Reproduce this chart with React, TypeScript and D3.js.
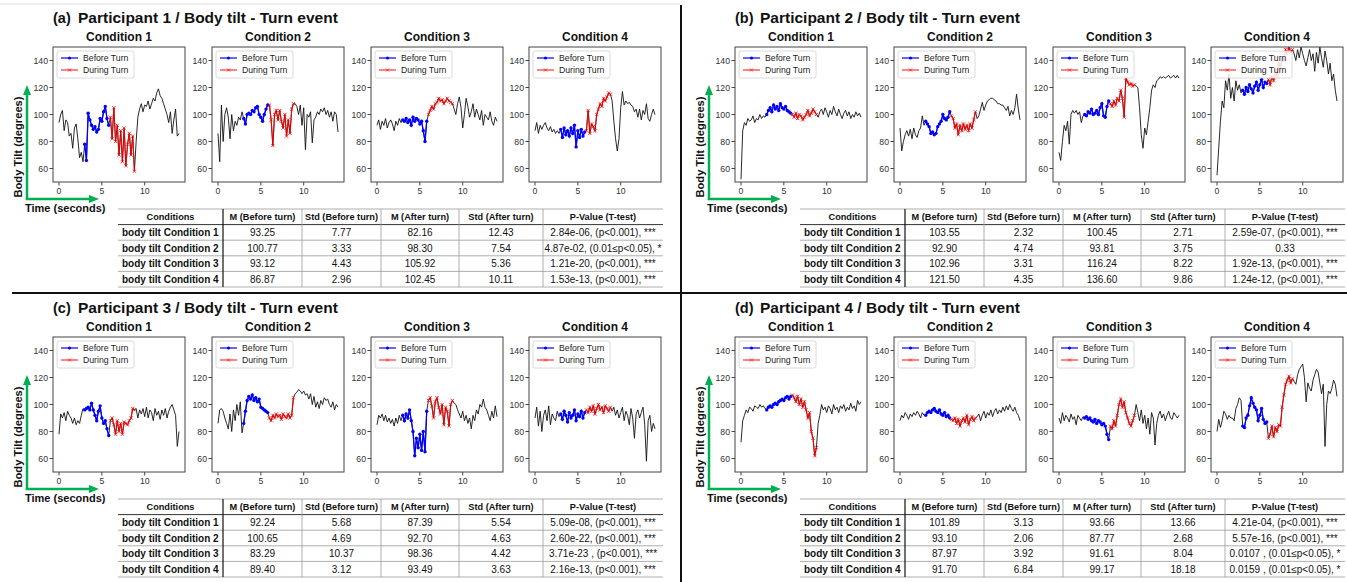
import * as d3 from "d3";

// sampling of the body tilt series (seconds between samples)
const SAMPLE_DT = 0.2;
// index ranges [start, end) for the two highlighted windows
const BEFORE_RANGE: [number, number] = [15, 30]; // 3.0 s .. 5.8 s
const DURING_RANGE: [number, number] = [30, 45]; // 6.0 s .. 8.8 s

const Y_TICKS = [60, 80, 100, 120, 140];
const X_TICKS = [0, 5, 10];
const CONDITIONS = ["Condition 1", "Condition 2", "Condition 3", "Condition 4"];
const TABLE_HEADERS = ["Conditions", "M (Before turn)", "Std (Before turn)", "M (After turn)", "Std (After turn)", "P-Value (T-test)"];
const ROW_LABELS = ["body tilt Condition 1", "body tilt Condition 2", "body tilt Condition 3", "body tilt Condition 4"];

// ---- Participant 1 ----
const p1c1 = [
  94, 100, 103, 88, 96, 94, 84, 86, 75, 90, 93, 82, 68, 72, 65,
  78, 66, 101, 96, 92, 89, 91, 87, 89, 97, 95, 102, 106, 97, 92,
  98, 82, 105, 80, 92, 70, 88, 65, 90, 62, 78, 86, 70, 84, 58,
  80, 98, 104, 108, 102, 107, 106, 110, 104, 108, 112, 110, 116, 119, 114, 112, 108, 104, 100, 94, 102, 86, 96, 104, 84, 86,
];
const p1c2 = [
  86, 65, 107, 80, 100, 105, 98, 82, 100, 88, 95, 92, 98, 96, 102,
  97, 93, 100, 101, 100, 103, 102, 105, 106, 100, 98, 95, 100, 104, 107,
  107, 96, 77, 100, 103, 96, 103, 95, 90, 100, 84, 96, 86, 104, 108,
  108, 106, 100, 107, 92, 105, 74, 100, 98, 102, 79, 96, 98, 102, 100, 104, 102, 105, 100, 103, 98, 102, 95, 102, 100, 87,
];
const p1c3 = [
  92, 96, 89, 95, 92, 97, 90, 94, 96, 93, 88, 95, 92, 97, 94,
  96, 95, 97, 94, 96, 92, 98, 95, 97, 96, 93, 95, 88, 80, 95,
  100, 103, 106, 104, 108, 109, 112, 110, 111, 108, 110, 112, 110, 109, 108,
  104, 100, 108, 113, 105, 90, 100, 112, 106, 98, 102, 108, 98, 104, 100, 96, 103, 92, 100, 98, 96, 102, 95, 92, 98, 95,
];
const p1c4 = [
  88, 94, 86, 92, 89, 92, 94, 90, 88, 91, 87, 89, 86, 88, 86,
  89, 83, 90, 85, 88, 84, 90, 86, 92, 76, 88, 83, 89, 84, 87,
  88, 103, 86, 93, 91, 88, 100, 104, 108, 106, 112, 110, 113, 116, 115,
  110, 95, 82, 73, 82, 105, 117, 107, 110, 108, 109, 107, 106, 102, 104, 98, 104, 96, 103, 100, 108, 97, 95, 100, 104, 100,
];

// ---- Participant 2 ----
const p2c1 = [
  52, 88, 94, 92, 97, 95, 96, 99, 94, 97, 96, 100, 97, 99, 98,
  100, 103, 105, 102, 107, 104, 106, 103, 108, 105, 104, 106, 103, 102, 101,
  100, 98, 101, 97, 100, 99, 96, 98, 100, 103, 99, 101, 104, 102, 100,
  98, 102, 104, 100, 105, 102, 98, 103, 100, 106, 102, 99, 104, 100, 97, 101, 103, 99, 102, 97, 100, 98, 102, 99, 101, 98,
];
const p2c2 = [
  90, 73, 80, 85, 88, 84, 89, 82, 90, 85, 83, 88, 90, 99, 92,
  95, 93, 91, 86, 87, 85, 86, 91, 93, 95, 100, 97, 96, 98, 102,
  99, 97, 90, 93, 85, 92, 88, 93, 89, 92, 88, 93, 90, 96, 102,
  97, 99, 104, 109, 103, 107, 110, 111, 112, 112, 111, 110, 108, 108, 107, 107, 105, 103, 106, 99, 103, 100, 105, 115, 104, 96,
];
const p2c3 = [
  72, 66, 80, 92, 88, 95, 78, 100, 103, 101, 103, 100, 102, 94, 99,
  100, 99, 102, 101, 104, 100, 101, 103, 100, 105, 108, 99, 98, 106, 110,
  108, 106, 110, 107, 112, 110, 118, 112, 98, 127, 124, 122, 123, 121, 122,
  121, 120, 105, 85, 75, 90, 85, 95, 105, 118, 122, 120, 125, 126, 128, 127, 128, 127, 128, 129, 127, 128, 129, 127, 129, 127,
];
const p2c4 = [
  55, 75, 95, 110, 105, 125, 118, 130, 112, 120, 110, 125, 118, 122, 116,
  118, 115, 120, 117, 122, 119, 116, 121, 124, 118, 122, 126, 120, 124, 123,
  126, 122, 128, 125, 132, 128, 138, 135, 142, 140, 148, 145, 150, 146, 148,
  145, 140, 148, 142, 150, 145, 140, 136, 142, 148, 140, 145, 132, 146, 138, 150, 142, 135, 147, 140, 130, 138, 125, 130, 118, 110,
];

// ---- Participant 3 ----
const p3c1 = [
  78, 93, 90, 94, 88, 95, 92, 90, 86, 90, 85, 88, 86, 92, 97,
  96, 97, 98, 96, 101, 96, 92, 88, 95, 99, 90, 86, 88, 82, 77,
  88, 90, 85, 78, 88, 80, 86, 78, 87, 86, 85, 88, 90, 97, 96,
  97, 90, 96, 93, 97, 91, 98, 90, 96, 94, 88, 97, 92, 95, 89, 96, 92, 97, 90, 95, 98, 100, 96, 92, 69, 80,
];
const p3c2 = [
  86, 96, 97, 95, 90, 86, 82, 93, 80, 96, 88, 100, 92, 102, 79,
  86, 95, 103, 106, 104, 107, 103, 105, 102, 104, 98, 97, 96, 95, 94,
  90, 88, 92, 90, 93, 91, 92, 89, 93, 91, 90, 93, 90, 92, 105,
  108, 109, 111, 110, 108, 110, 107, 108, 104, 108, 100, 106, 98, 102, 97, 103, 100, 105, 103, 104, 100, 98, 102, 96, 100, 98,
];
const p3c3 = [
  85, 92, 90, 93, 88, 92, 87, 90, 86, 89, 84, 90, 86, 92, 88,
  92, 88, 93, 90, 96, 88, 80, 62, 75, 68, 78, 66, 80, 65, 95,
  103, 105, 99, 90, 102, 105, 98, 93, 100, 85, 98, 95, 84, 100, 103,
  101, 100, 96, 93, 90, 95, 88, 92, 86, 90, 82, 92, 88, 96, 93, 100, 98, 104, 98, 96, 92, 88, 95, 90, 99, 91,
];
const p3c4 = [
  90, 98, 84, 95, 80, 92, 96, 88, 99, 85, 93, 90, 88, 95, 91,
  93, 89, 95, 92, 87, 94, 90, 92, 96, 88, 93, 91, 95, 90, 94,
  96, 94, 98, 95, 99, 93, 97, 100, 96, 98, 94, 99, 97, 95, 98,
  95, 98, 92, 96, 90, 94, 98, 88, 95, 92, 85, 97, 90, 75, 93, 96, 90, 94, 98, 85, 58, 88, 92, 80, 86, 82,
];

// ---- Participant 4 ----
const p4c1 = [
  72, 88, 92, 96, 94, 98, 97, 95, 99, 98, 97, 100, 98, 99, 97,
  96, 98, 99, 98, 100, 101, 100, 102, 103, 104, 103, 105, 106, 104, 106,
  107, 105, 102, 106, 100, 104, 98, 102, 96, 90, 94, 80, 75, 62, 68,
  86, 92, 100, 96, 98, 94, 99, 97, 93, 100, 96, 98, 94, 99, 97, 100, 95, 98, 96, 101, 97, 99, 95, 103, 100, 102,
];
const p4c2 = [
  88, 92, 90, 94, 92, 89, 93, 91, 94, 92, 95, 93, 90, 94, 92,
  92, 94, 95, 94, 96, 97, 95, 94, 96, 93, 92, 94, 91, 92, 90,
  89, 88, 90, 86, 89, 84, 88, 90, 87, 92, 85, 89, 91, 88, 90,
  91, 93, 88, 92, 95, 90, 94, 92, 96, 91, 95, 97, 93, 96, 94, 98, 95, 99, 96, 100, 97, 95, 98, 94, 92, 88,
];
const p4c3 = [
  90, 86, 94, 88, 92, 90, 87, 93, 89, 91, 85, 92, 90, 88, 91,
  90, 91, 89, 90, 88, 87, 89, 86, 88, 87, 85, 86, 84, 78, 74,
  84, 82, 88, 84, 92, 100, 104, 98, 102, 94, 90, 86, 84, 88, 92,
  100, 94, 88, 96, 86, 92, 82, 90, 78, 94, 90, 70, 86, 92, 95, 90, 93, 88, 92, 95, 90, 89, 94, 92, 90, 92,
];
const p4c4 = [
  80, 89, 83, 88, 95, 93, 89, 92, 90, 90, 88, 97, 100, 105, 103,
  84, 83, 90, 92, 99, 105, 101, 98, 96, 88, 92, 97, 89, 86, 87,
  75, 78, 84, 76, 83, 80, 85, 84, 98, 107, 115, 118, 121, 116, 119,
  117, 115, 122, 126, 128, 130, 120, 102, 116, 112, 110, 118, 122, 126, 124, 116, 108, 115, 69, 100, 110, 108, 112, 118, 115, 106,
];

// ---- tables ----
const p1MBefore = [93.25, 100.77, 93.12, 86.87];
const p1StdBefore = [7.77, 3.33, 4.43, 2.96];
const p1MAfter = [82.16, 98.3, 105.92, 102.45];
const p1StdAfter = [12.43, 7.54, 5.36, 10.11];
const p1PValue = ["2.84e-06,  (p<0.001), ***", "4.87e-02,  (0.01≤p<0.05), *", "1.21e-20, (p<0.001), ***", "1.53e-13, (p<0.001), ***"];

const p2MBefore = [103.55, 92.9, 102.96, 121.5];
const p2StdBefore = [2.32, 4.74, 3.31, 4.35];
const p2MAfter = [100.45, 93.81, 116.24, 136.6];
const p2StdAfter = [2.71, 3.75, 8.22, 9.86];
const p2PValue = ["2.59e-07, (p<0.001), ***", "0.33", "1.92e-13, (p<0.001), ***", "1.24e-12, (p<0.001), ***"];

const p3MBefore = [92.24, 100.65, 83.29, 89.4];
const p3StdBefore = [5.68, 4.69, 10.37, 3.12];
const p3MAfter = [87.39, 92.7, 98.36, 93.49];
const p3StdAfter = [5.54, 4.63, 4.42, 3.63];
const p3PValue = ["5.09e-08, (p<0.001), ***", "2.60e-22, (p<0.001), ***", "3.71e-23 , (p<0.001), ***", "2.16e-13, (p<0.001), ***"];

const p4MBefore = [101.89, 93.1, 87.97, 91.7];
const p4StdBefore = [3.13, 2.06, 3.92, 6.84];
const p4MAfter = [93.66, 87.77, 91.61, 99.17];
const p4StdAfter = [13.66, 2.68, 8.04, 18.18];
const p4PValue = ["4.21e-04,  (p<0.001), ***", "5.57e-16,  (p<0.001), ***", "0.0107 , (0.01≤p<0.05), *", "0.0159 , (0.01≤p<0.05), *"];

// ---- layout ----
const W = 1347;
const H = 582;
const FONT = "'Liberation Sans', Arial, sans-serif";
const GREEN = "#00b050";
const PLOT_LEFT = [53, 212, 371, 529];
const PLOT_TOP = 47;
const PW = 132;
const PH = 135;
const TABLE_COLS = [118, 223, 302, 381, 459, 543, 663];
const TABLE_TOP = 209;
const ROW_H = 15.6;

const QUADS = [
  { tag: "(a)", title: "Participant 1 / Body tilt - Turn event", dx: 0, dy: 0,
    series: [p1c1, p1c2, p1c3, p1c4],
    cols: [p1MBefore, p1StdBefore, p1MAfter, p1StdAfter], p: p1PValue },
  { tag: "(b)", title: "Participant 2 / Body tilt - Turn event", dx: 682, dy: 0,
    series: [p2c1, p2c2, p2c3, p2c4],
    cols: [p2MBefore, p2StdBefore, p2MAfter, p2StdAfter], p: p2PValue },
  { tag: "(c)", title: "Participant 3 / Body tilt - Turn event", dx: 0, dy: 290,
    series: [p3c1, p3c2, p3c3, p3c4],
    cols: [p3MBefore, p3StdBefore, p3MAfter, p3StdAfter], p: p3PValue },
  { tag: "(d)", title: "Participant 4 / Body tilt - Turn event", dx: 682, dy: 290,
    series: [p4c1, p4c2, p4c3, p4c4],
    cols: [p4MBefore, p4StdBefore, p4MAfter, p4StdAfter], p: p4PValue },
];

type Pt = [number, number];

function crossPath(cx: number, cy: number, s: number) {
  return `M${cx - s},${cy - s}L${cx + s},${cy + s}M${cx - s},${cy + s}L${cx + s},${cy - s}`;
}

function Plot({ left, top, values, title, id }: { left: number; top: number; values: number[]; title: string; id: string }) {
  const x = d3.scaleLinear().domain([-0.7, 14.7]).range([left, left + PW]);
  const y = d3.scaleLinear().domain([50, 150]).range([top + PH, top]);
  const pts: Pt[] = values.map((v, i) => [i * SAMPLE_DT, v]);
  const line = d3.line<Pt>().x((d) => x(d[0])).y((d) => y(d[1]));
  const before = pts.slice(BEFORE_RANGE[0], BEFORE_RANGE[1]);
  const during = pts.slice(DURING_RANGE[0], DURING_RANGE[1]);
  const lx = left + 4;
  const ly = top + 4;

  return (
    <g>
      <clipPath id={id}>
        <rect x={left} y={top} width={PW} height={PH} />
      </clipPath>
      <text x={left + PW / 2} y={top - 6} textAnchor="middle" fontSize={12} fontWeight="bold" fill="#111">
        {title}
      </text>
      <g clipPath={`url(#${id})`}>
        <path d={line(pts) ?? ""} fill="none" stroke="#111" strokeWidth={0.9} />
        <path d={line(before) ?? ""} fill="none" stroke="#0000ff" strokeWidth={1.3} />
        {before.map((d, i) => (
          <circle key={i} cx={x(d[0])} cy={y(d[1])} r={1.7} fill="#0000ff" />
        ))}
        <g opacity={0.8}>
          <path d={line(during) ?? ""} fill="none" stroke="#ff0000" strokeWidth={1.2} />
          {during.map((d, i) => (
            <path key={i} d={crossPath(x(d[0]), y(d[1]), 1.6)} stroke="#ff0000" strokeWidth={1} />
          ))}
        </g>
      </g>
      <rect x={left} y={top} width={PW} height={PH} fill="none" stroke="#444" strokeWidth={1} />
      {Y_TICKS.map((t) => (
        <g key={t}>
          <line x1={left - 3.5} x2={left} y1={y(t)} y2={y(t)} stroke="#444" />
          <text x={left - 5} y={y(t) + 3} textAnchor="end" fontSize={8.7} fill="#333">{t}</text>
        </g>
      ))}
      {X_TICKS.map((t) => (
        <g key={t}>
          <line x1={x(t)} x2={x(t)} y1={top + PH} y2={top + PH + 3.5} stroke="#444" />
          <text x={x(t)} y={top + PH + 11.5} textAnchor="middle" fontSize={8.7} fill="#333">{t}</text>
        </g>
      ))}
      {/* legend */}
      <rect x={lx} y={ly} width={77} height={27} rx={2} fill="#fff" fillOpacity={0.85} stroke="#d0d0d0" strokeWidth={0.8} />
      <line x1={lx + 4} x2={lx + 21} y1={ly + 7} y2={ly + 7} stroke="#0000ff" strokeWidth={1.2} />
      <circle cx={lx + 12.5} cy={ly + 7} r={1.6} fill="#0000ff" />
      <text x={lx + 26} y={ly + 10} fontSize={8.7} fill="#222">Before Turn</text>
      <g opacity={0.8}>
        <line x1={lx + 4} x2={lx + 21} y1={ly + 19} y2={ly + 19} stroke="#ff0000" strokeWidth={1.2} />
        <path d={crossPath(lx + 12.5, ly + 19, 1.5)} stroke="#ff0000" strokeWidth={1} />
      </g>
      <text x={lx + 26} y={ly + 22} fontSize={8.7} fill="#222">During Turn</text>
    </g>
  );
}

function StatsTable({ cols, p }: { cols: number[][]; p: string[] }) {
  const x0 = TABLE_COLS[0];
  const x1 = TABLE_COLS[TABLE_COLS.length - 1];
  const rows = 5;
  const mid = (i: number) => (TABLE_COLS[i] + TABLE_COLS[i + 1]) / 2;
  return (
    <g fontSize={10} fill="#111">
      {d3.range(rows + 1).map((r) => (
        <line key={r} x1={x0} x2={x1} y1={TABLE_TOP + r * ROW_H} y2={TABLE_TOP + r * ROW_H}
          stroke={r === 1 ? "#333" : "#999"} strokeWidth={r === 1 ? 1 : 0.8} />
      ))}
      {TABLE_COLS.slice(1, -1).map((cx, i) => (
        <line key={cx} x1={cx} x2={cx} y1={TABLE_TOP} y2={TABLE_TOP + rows * ROW_H}
          stroke={i === 0 ? "#111" : "#999"} strokeWidth={i === 0 ? 1.2 : 0.8} />
      ))}
      {TABLE_HEADERS.map((h, i) => (
        <text key={h} x={mid(i)} y={TABLE_TOP + ROW_H / 2 + 3.3} textAnchor="middle" fontWeight="bold" fontSize={9.2}>{h}</text>
      ))}
      {ROW_LABELS.map((lab, r) => {
        const cy = TABLE_TOP + (r + 1.5) * ROW_H + 3.5;
        return (
          <g key={lab}>
            <text x={x0 + 4} y={cy} fontWeight="bold">{lab}</text>
            {cols.map((c, i) => (
              <text key={i} x={mid(i + 1)} y={cy} textAnchor="middle">{c[r].toFixed(2)}</text>
            ))}
            <text x={mid(5)} y={cy} textAnchor="middle">{p[r]}</text>
          </g>
        );
      })}
    </g>
  );
}

function Quadrant({ q, qi }: { q: (typeof QUADS)[number]; qi: number }) {
  return (
    <g transform={`translate(${q.dx},${q.dy})`}>
      <text x={53} y={23} fontSize={14.5} fontWeight="bold" fill="#111">{q.tag}</text>
      <text x={78} y={23} fontSize={15.5} fontWeight="bold" fill="#111">{q.title}</text>
      {q.series.map((vals, i) => (
        <Plot key={i} left={PLOT_LEFT[i]} top={PLOT_TOP} values={vals} title={CONDITIONS[i]} id={`clip-${qi}-${i}`} />
      ))}
      {/* green axis arrows */}
      <line x1={27} x2={27} y1={200} y2={93} stroke={GREEN} strokeWidth={2.5} />
      <path d="M27,85 L31,95 L23,95 Z" fill={GREEN} />
      <line x1={25.8} x2={91} y1={199} y2={199} stroke={GREEN} strokeWidth={2.5} />
      <path d="M99,199 L89,195 L89,203 Z" fill={GREEN} />
      <text transform="translate(22,147) rotate(-90)" textAnchor="middle" fontSize={11.2} fontWeight="bold" fill="#111">
        Body Tilt (degrees)
      </text>
      <text x={25} y={212} fontSize={11} fontWeight="bold" fill="#111">Time (seconds)</text>
      <StatsTable cols={q.cols} p={q.p} />
    </g>
  );
}

export default function App() {
  return (
    <svg width={W} height={H} viewBox={`0 0 ${W} ${H}`} fontFamily={FONT}
      style={{ position: "absolute", left: 0, top: 0, background: "#fff" }}>
      <rect width={W} height={H} fill="#fff" />
      <line x1={0} x2={680} y1={4} y2={4} stroke="#ddd" strokeWidth={1} />
      {QUADS.map((q, i) => (
        <Quadrant key={q.tag} q={q} qi={i} />
      ))}
      <line x1={12} x2={W} y1={293} y2={293} stroke="#111" strokeWidth={2} />
      <line x1={681} x2={681} y1={5} y2={H} stroke="#111" strokeWidth={2} />
    </svg>
  );
}
